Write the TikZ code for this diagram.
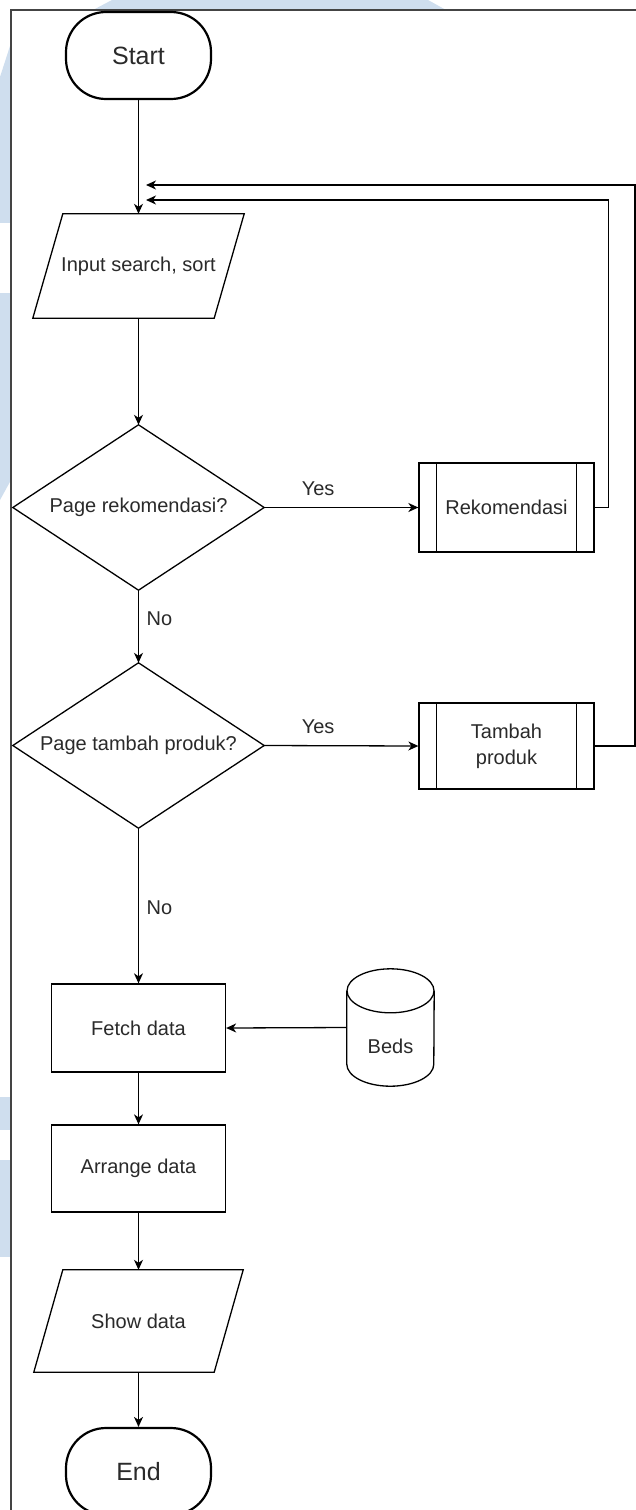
\documentclass[tikz,border=0pt]{standalone}
\usepackage{fontspec}
\setmainfont{Liberation Sans}
\usetikzlibrary{arrows.meta,calc}
\definecolor{wm}{HTML}{CFDEEE}
\definecolor{bordercol}{HTML}{444444}
\definecolor{txtcol}{HTML}{2A2A2A}
\begin{document}
\begin{tikzpicture}[x=1pt,y=-1pt,
  ln/.style={line width=1.3pt, draw=black},
  arr/.style={line width=1.3pt, draw=black, -{Stealth[length=10pt,width=9pt,inset=3pt]}},
  txt/.style={font=\fontsize{20}{26}\selectfont, text=txtcol, align=center, inner sep=0pt},
  term/.style={txt, font=\fontsize{25}{30}\selectfont, draw=black, line width=2.2pt, rounded corners=40pt, minimum width=145pt, minimum height=87pt},
  iobox/.style={txt, draw=none, minimum width=211pt, minimum height=104pt},
  decbox/.style={txt, draw=none, minimum width=251pt, minimum height=165pt},
  ppbox/.style={txt, draw=black, line width=1.3pt, minimum width=175pt, minimum height=89pt},
  procbox/.style={txt, draw=black, line width=1.3pt, minimum width=174pt, minimum height=88pt},
  dbbox/.style={txt, draw=none, minimum width=87pt, minimum height=117pt},
  lbl/.style={txt}
]
\useasboundingbox (0,0) rectangle (636,1510);
\fill[white] (0,0) rectangle (636,1510);
% watermark remnants outside the frame
\fill[wm] (0,77) -- (11,43) -- (11,480) -- (0,500) -- cycle;
\fill[white] (0,223) rectangle (10,293);
\fill[wm] (0,1097) rectangle (11,1130);
\fill[wm] (0,1160) rectangle (11,1257);
\fill[wm] (93,10) -- (112,0) -- (428,0) -- (446,10) -- cycle;
% frame
\draw[bordercol, line width=1.5pt] (11,1515) -- (11,10) -- (640,10);

% nodes
\node[term] (start) at (138.5,55.5) {Start};
\node[iobox] (in) at (138.5,266) {Input search, sort};
\draw[ln] ($(in.north west)+(30,0)$) -- (in.north east) -- ($(in.south east)+(-30,0)$) -- (in.south west) -- cycle;

\node[decbox] (d1) at (138.5,507.5) {Page rekomendasi?};
\draw[ln] (d1.north) -- (d1.east) -- (d1.south) -- (d1.west) -- cycle;

\node[ppbox] (rek) at (506.5,507.5) {Rekomendasi};
\draw[ln] ($(rek.north west)+(18,0)$) -- ($(rek.south west)+(18,0)$);
\draw[ln] ($(rek.north east)+(-18,0)$) -- ($(rek.south east)+(-18,0)$);

\node[decbox] (d2) at (138.5,745.5) {Page tambah produk?};
\draw[ln] (d2.north) -- (d2.east) -- (d2.south) -- (d2.west) -- cycle;

\node[ppbox, minimum height=86pt] (tam) at (506.5,746) {Tambah\\produk};
\draw[ln] ($(tam.north west)+(18,0)$) -- ($(tam.south west)+(18,0)$);
\draw[ln] ($(tam.north east)+(-18,0)$) -- ($(tam.south east)+(-18,0)$);

\node[procbox] (fetch) at (138.5,1028) {Fetch data};

\node[dbbox] (beds) at (390.5,1027.5) {};
\draw[ln] ($(beds.north)+(0,22)$) ellipse [x radius=43.5, y radius=22];
\draw[ln] ($(beds.north west)+(0,22)$) -- ($(beds.south west)+(0,-22)$)
  arc[start angle=180, end angle=0, x radius=43.5, y radius=22] -- ($(beds.north east)+(0,22)$);
\node[txt] (bedstext) at ($(beds.center)+(0,19)$) {Beds};

\node[procbox, minimum height=87pt] (arrange) at (138.5,1168.5) {Arrange data};

\node[iobox, minimum height=102pt, minimum width=209pt] (show) at (138.5,1321) {Show data};
\draw[ln] ($(show.north west)+(29,0)$) -- (show.north east) -- ($(show.south east)+(-29,0)$) -- (show.south west) -- cycle;

\node[term] (end) at (138.5,1471.5) {End};

% connectors
\coordinate (j1) at (146,185);
\coordinate (j2) at (146,200);
\draw[arr] (start.south) -- (in.north);
\draw[arr] (in.south) -- (d1.north);
\draw[arr] (d1.east) -- node[lbl, pos=0.35, yshift=19pt] (yes1) {Yes} (rek.west);
\draw[arr] (d1.south) -- node[lbl, pos=0.39, xshift=21pt] (no1) {No} (d2.north);
\draw[arr] (d2.east) -- node[lbl, pos=0.35, yshift=19pt] (yes2) {Yes} (tam.west);
\draw[arr] (d2.south) -- node[lbl, pos=0.51, xshift=21pt] (no2) {No} (fetch.north);
\draw[arr] (rek.east) -- ++(14,0) |- (j2);
\draw[arr] (tam.east) -- (635,746) |- (j1);
\draw[arr] (beds.west) -- (fetch.east);
\draw[arr] (fetch.south) -- (arrange.north);
\draw[arr] (arrange.south) -- (show.north);
\draw[arr] (show.south) -- (end.north);
\end{tikzpicture}
\end{document}
